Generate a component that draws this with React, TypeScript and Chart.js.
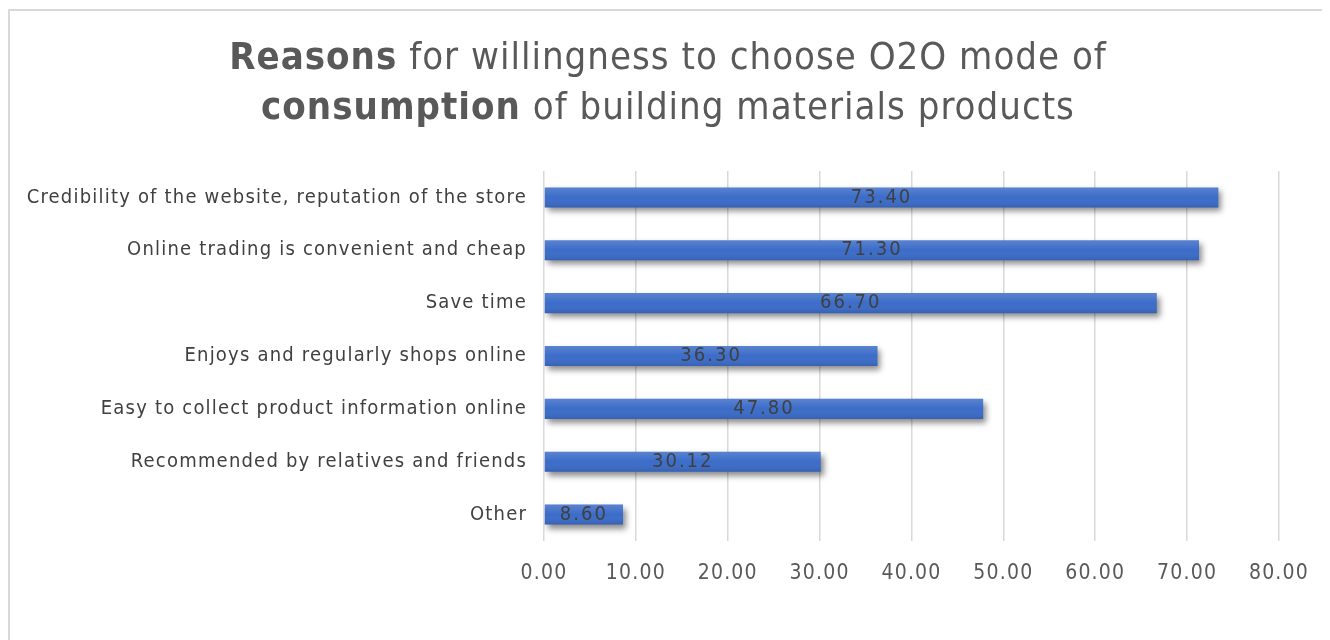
import React, { useEffect, useRef } from "react";
import { Chart, registerables } from "chart.js";

Chart.register(...registerables);

const categories = [
  "Credibility of the website, reputation of the store",
  "Online trading is convenient and cheap",
  "Save time",
  "Enjoys and regularly shops online",
  "Easy to collect product information online",
  "Recommended by relatives and friends",
  "Other",
];
const values = [73.4, 71.3, 66.7, 36.3, 47.8, 30.12, 8.6];
const titleLine1 = [
  { text: "Reasons", bold: true },
  { text: " for willingness to choose O2O mode of", bold: false },
];
const titleLine2 = [
  { text: "consumption", bold: true },
  { text: " of building materials products", bold: false },
];

const FONT = "'DejaVu Sans Condensed', 'Liberation Sans Narrow', 'Noto Sans', sans-serif";

export default function App() {
  const ref = useRef<HTMLCanvasElement | null>(null);

  useEffect(() => {
    if (!ref.current) return;

    const decorPlugin = {
      id: "decor",
      beforeDraw(chart: any) {
        const ctx = chart.ctx;
        ctx.letterSpacing = "1.2px";
      },
      beforeDatasetsDraw(chart: any) {
        const ctx = chart.ctx;
        ctx.save();
        ctx.shadowColor = "rgba(0,0,0,0.45)";
        ctx.shadowBlur = 6;
        ctx.shadowOffsetX = 3;
        ctx.shadowOffsetY = 4;
      },
      afterDatasetsDraw(chart: any) {
        const ctx = chart.ctx;
        ctx.restore();
        const meta = chart.getDatasetMeta(0);
        meta.data.forEach((el: any) => {
          const h = el.height;
          const top = el.y - h / 2;
          const left = Math.min(el.x, el.base);
          const w = Math.abs(el.x - el.base);
          const g = ctx.createLinearGradient(0, top, 0, top + h);
          g.addColorStop(0, "rgba(255,255,255,0.16)");
          g.addColorStop(0.5, "rgba(255,255,255,0)");
          g.addColorStop(1, "rgba(0,0,0,0.10)");
          ctx.save();
          ctx.fillStyle = g;
          ctx.fillRect(left, top, w, h);
          ctx.restore();
        });
        ctx.save();
        ctx.font = `20px ${FONT}`;
        ctx.letterSpacing = "2px";
        ctx.fillStyle = "#404040";
        ctx.textAlign = "center";
        ctx.textBaseline = "middle";
        meta.data.forEach((el: any, i: number) => {
          ctx.fillText(values[i].toFixed(2), (el.x + el.base) / 2, el.y);
        });
        ctx.restore();
      },
      afterDraw(chart: any) {
        const ctx = chart.ctx;
        ctx.save();
        ctx.fillStyle = "#595959";
        ctx.textBaseline = "middle";
        ctx.textAlign = "left";
        ctx.letterSpacing = "1px";
        const cx = chart.width / 2;
        const drawLine = (segs: { text: string; bold: boolean }[], y: number) => {
          let total = 0;
          const widths = segs.map((s) => {
            ctx.font = `${s.bold ? "bold " : ""}38px ${FONT}`;
            const w = ctx.measureText(s.text).width;
            total += w;
            return w;
          });
          let x = cx - total / 2;
          segs.forEach((s, i) => {
            ctx.font = `${s.bold ? "bold " : ""}38px ${FONT}`;
            ctx.fillText(s.text, x, y);
            x += widths[i];
          });
        };
        drawLine(titleLine1, 48);
        drawLine(titleLine2, 98);
        ctx.restore();
      },
    };

    const chart = new Chart(ref.current, {
      type: "bar",
      data: {
        labels: categories,
        datasets: [
          {
            data: values,
            backgroundColor: "#3b6cc8",
            barPercentage: 0.76,
            categoryPercentage: 0.5,
          },
        ],
      },
      options: {
        indexAxis: "y",
        animation: false,
        responsive: true,
        maintainAspectRatio: false,
        layout: { padding: { top: 160, left: 0, right: 46, bottom: 66 } },
        plugins: {
          legend: { display: false },
          tooltip: { enabled: false },
          title: { display: false },
        },
        scales: {
          x: {
            min: 0,
            max: 80,
            grid: { color: "#d9d9d9", lineWidth: 1.5, drawTicks: false },
            border: { display: false },
            ticks: {
              stepSize: 10,
              padding: 20,
              color: "#595959",
              font: { family: FONT, size: 21 },
              callback: (v: any) => Number(v).toFixed(2),
            },
            afterFit: (scale: any) => {
              scale.height = 60;
            },
          },
          y: {
            grid: { display: false, drawTicks: false },
            border: { display: false },
            ticks: {
              padding: 17,
              color: "#404040",
              font: { family: FONT, size: 20 },
            },
            afterFit: (scale: any) => {
              scale.width = 534;
            },
          },
        },
      },
      plugins: [decorPlugin],
    });
    return () => chart.destroy();
  }, []);

  return (
    <div
      style={{
        width: 1320,
        height: 660,
        marginTop: 1,
        border: "2px solid #d9d9d9",
        boxSizing: "border-box",
        background: "#fff",
      }}
    >
      <canvas ref={ref} />
    </div>
  );
}
